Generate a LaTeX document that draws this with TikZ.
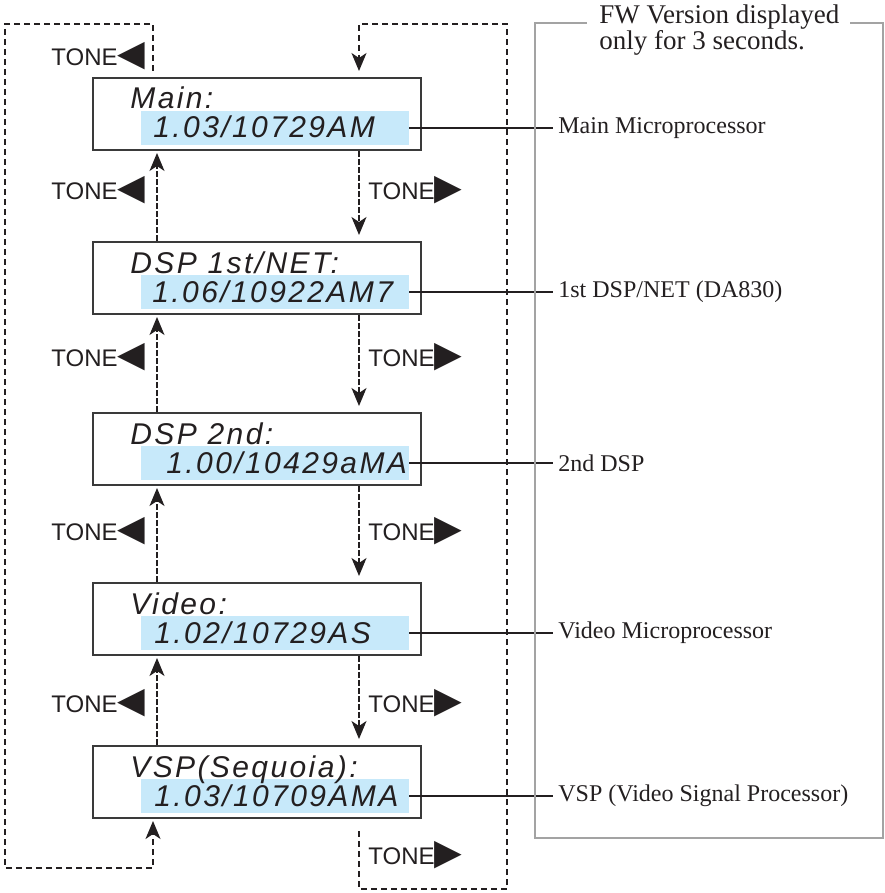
\documentclass[tikz,border=0pt]{standalone}
\usepackage{fontspec}
\usepackage{tikz}
\usetikzlibrary{calc,arrows.meta}
\setmainfont{Liberation Serif}
\newfontfamily\lcdfont[LetterSpace=8]{Liberation Sans}
\newfontfamily\tonefont{Liberation Sans}
\newfontfamily\symfont{DejaVu Sans}
\definecolor{ink}{HTML}{231F20}
\definecolor{frame}{HTML}{3A3A3A}
\definecolor{lcd}{HTML}{C7E9FA}
\definecolor{note}{HTML}{A3A3A3}
\newcommand{\toneleft}{TONE{\symfont\fontsize{18}{18}\selectfont ◀}}
\newcommand{\toneright}{TONE{\symfont\fontsize{18}{18}\selectfont ▶}}
\tikzset{
  screen/.style={draw=frame, line width=1pt, minimum width=164pt, minimum height=36pt, inner sep=0pt},
  lcdbar/.style={fill=lcd, minimum width=134pt, minimum height=17pt, inner sep=0pt},
  head/.style={font=\lcdfont\itshape\fontsize{15}{17}\selectfont, text=ink, anchor=base west, inner sep=0pt},
  tone/.style={font=\tonefont\fontsize{12}{13}\selectfont, text=ink, anchor=west, inner sep=0pt},
  lab/.style={font=\fontsize{12}{14}\selectfont, text=ink, anchor=west, inner sep=2.5pt},
  lead/.style={draw=ink, line width=0.7pt},
  nav/.style={draw=ink, line width=0.7pt, dash pattern=on 3pt off 1pt, -{Stealth[length=9pt,width=7.5pt,inset=2.5pt]}},
  loopback/.style={draw=ink, line width=1pt, dash pattern=on 3pt off 2pt, -{Stealth[length=9pt,width=7.5pt,inset=2.5pt]}},
  bracket/.style={draw=note, line width=1pt},
}
\begin{document}
\begin{tikzpicture}[x=0.5pt, y=-0.5pt]
  \useasboundingbox (0,0) rectangle (884,893);
  % the five version screens
  \foreach \n/\y/\hd/\vr/\vx/\lb in {
      1/114/{Main:}/{1.03/10729AM}/153/{Main Microprocessor},
      2/278/{DSP 1st/NET:}/{1.06/10922AM7}/152/{1st DSP/NET (DA830)},
      3/449/{DSP 2nd:}/{1.00/10429aMA}/166/{2nd DSP},
      4/619/{Video:}/{1.02/10729AS}/154/{Video Microprocessor},
      5/782/{VSP(Sequoia):}/{1.03/10709AMA}/154/{VSP (Video Signal Processor)}}{
    \node[screen] (b\n) at (257,\y) {};
    \node[lcdbar] (v\n) at (275,{\y+14}) {};
    \node[head] (h\n) at (130,{\y-5}) {\hd};
    \node[head] (t\n) at (\vx,{\y+24}) {\vr};
    \node[lab] (l\n) at (553,{\y+14}) {\lb};
    \draw[lead] (v\n.east) -- (l\n.west);
  }
  % TONE keys
  \coordinate (ux) at (157,0);
  \coordinate (dx) at (359,0);
  \foreach \a/\b in {b1/b2,b2/b3,b3/b4,b4/b5}{
    \draw[nav] (\b.north -| ux) -- ([yshift=-1pt]\a.south -| ux);
    \draw[nav] (\a.south -| dx) -- ([yshift=3pt]\b.north -| dx);
  }
  \foreach \y in {56,190,357,531,703}{\node[tone] at (51,\y) {\toneleft};}
  \foreach \y in {190,357,531,703,855}{\node[tone] at (368,\y) {\toneright};}
  % wrap-around paths
  \coordinate (lx) at (153,0);
  \coordinate (ltop) at (5,24);
  \coordinate (lbot) at (5,868);
  \coordinate (rtop) at (507,24);
  \coordinate (rbot) at (507,889);
  \draw[loopback] ([yshift=3pt]b1.north -| lx) |- (ltop) -- (lbot) -| ([yshift=-1pt]b5.south -| lx);
  \draw[loopback] ([yshift=-6pt]b5.south -| dx) |- (rbot) -- (rtop) -| ([yshift=3pt]b1.north -| dx);
  % FW note frame
  \node[font=\fontsize{13.5}{11.5}\selectfont, text=ink, align=left, anchor=north west, inner sep=0pt] (fw) at (599,4)
    {FW Version displayed\\only for 3 seconds.};
  \coordinate (nl) at (587,23);
  \coordinate (nr) at (850,23);
  \draw[bracket] (nl) -- (535,23) -- (535,838) -- (883,838) -- (883,23) -- (nr);
\end{tikzpicture}
\end{document}
